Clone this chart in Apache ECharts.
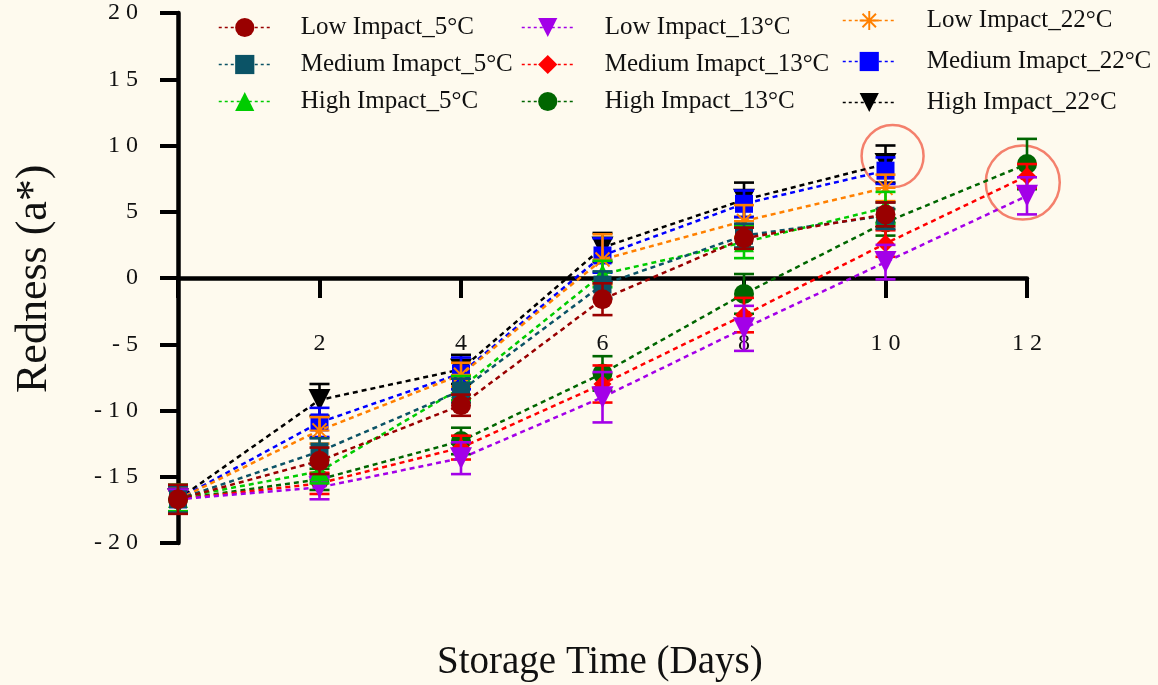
<!DOCTYPE html>
<html>
<head>
<meta charset="utf-8">
<script src="https://cdn.jsdelivr.net/npm/echarts@6/dist/echarts.min.js"></script>
<style>
html,body{margin:0;padding:0;background:#fefaee;}
#chart{width:1158px;height:685px;}
</style>
</head>
<body>
<div id="chart"></div>
<script>
// ---- data ----
const days = [0, 2, 4, 6, 8, 10, 12];
const yTicks = [-20, -15, -10, -5, 0, 5, 10, 15, 20];

const seriesNames = [
  'Low Impact_5°C', 'Medium Imapct_5°C', 'High Impact_5°C',
  'Low Impact_13°C', 'Medium Imapct_13°C', 'High Impact_13°C',
  'Low Impact_22°C', 'Medium Imapct_22°C', 'High Impact_22°C'
];

const low5   = [-16.7, -13.8, -9.6, -1.6, 3.0, 4.8];
const med5   = [-16.7, -13.1, -8.5, -0.5, 3.2, 4.7];
const high5  = [-16.6, -14.6, -8.3, 0.3, 2.7, 5.3];
const low13  = [-16.7, -15.8, -13.6, -9.0, -3.8, 1.2, 6.2];
const med13  = [-16.7, -15.5, -12.8, -8.0, -2.8, 2.6, 7.7];
const high13 = [-16.7, -15.2, -12.3, -7.2, -1.2, 4.2, 8.6];
const low22  = [-16.7, -11.5, -7.3, 1.4, 4.3, 6.8];
const med22  = [-16.7, -10.9, -7.2, 1.7, 5.6, 8.1];
const high22 = [-16.7, -9.2, -6.9, 2.3, 5.9, 8.6];

const low5Err   = [1.1, 1.0, 0.8, 1.2, 0.8, 0.9];
const med5Err   = [1.0, 1.0, 0.9, 1.0, 0.9, 1.0];
const high5Err  = [1.0, 0.9, 0.9, 1.0, 1.2, 1.2];
const low13Err  = [1.0, 0.9, 1.2, 1.9, 1.7, 1.3, 1.4];
const med13Err  = [1.0, 0.8, 0.9, 1.4, 1.3, 1.0, 0.9];
const high13Err = [1.0, 0.8, 1.0, 1.3, 1.5, 1.0, 1.9];
const low22Err  = [1.0, 1.0, 0.9, 1.9, 1.2, 1.0];
const med22Err  = [1.0, 1.1, 1.2, 1.3, 1.0, 1.0];
const high22Err = [1.0, 1.2, 1.1, 1.1, 1.3, 1.4];

// annotation circles (data coordinates)
const highlight1 = [10.1, 9.2];
const highlight2 = [11.94, 7.2];

// ---- styling ----
const FONT = 'Liberation Serif';
const invTri = 'path://M0,0L20,0L10,18Z';
const asterisk = 'path://M-1,-10L1,-10L1,10L-1,10Z M-10,-1L10,-1L10,1L-10,1Z M-7.7,-6.3L-6.3,-7.7L7.7,6.3L6.3,7.7Z M6.3,-7.7L7.7,-6.3L-6.3,7.7L-7.7,6.3Z';

const values = [low5, med5, high5, low13, med13, high13, low22, med22, high22];
const errs = [low5Err, med5Err, high5Err, low13Err, med13Err, high13Err, low22Err, med22Err, high22Err];
const colors = ['#990000', '#0b5366', '#00cc00', '#a300e8', '#ff0000', '#006600', '#ff8000', '#0000ff', '#000000'];
const symbols = ['circle', 'rect', 'triangle', invTri, 'diamond', 'circle', asterisk, 'rect', invTri];
const sizes = [20, 18, 20, 22, 18, 20, 20, 18, 22];
const zs = [30, 28, 26, 20, 18, 16, 14, 12, 10];

function spaced(v) { return String(v).split('').join(' '); }

const series = [];
values.forEach((vals, i) => {
  const data = vals.map((v, k) => [days[k], v]);
  const errData = vals.map((v, k) => [days[k], v - errs[i][k], v + errs[i][k]]);
  series.push({
    type: 'custom',
    name: seriesNames[i] + ' err',
    z: zs[i],
    silent: true,
    renderItem: function (params, api) {
      const x = api.value(0);
      const p1 = api.coord([x, api.value(1)]);
      const p2 = api.coord([x, api.value(2)]);
      const w = 10;
      const st = { stroke: colors[i], lineWidth: 2.6 };
      return {
        type: 'group',
        children: [
          { type: 'line', shape: { x1: p1[0], y1: p1[1], x2: p2[0], y2: p2[1] }, style: st },
          { type: 'line', shape: { x1: p1[0] - w, y1: p1[1], x2: p1[0] + w, y2: p1[1] }, style: st },
          { type: 'line', shape: { x1: p2[0] - w, y1: p2[1], x2: p2[0] + w, y2: p2[1] }, style: st }
        ]
      };
    },
    data: errData
  });
  const s = {
    type: 'line',
    name: seriesNames[i],
    z: zs[i] + 1,
    data: data,
    symbol: symbols[i],
    symbolSize: sizes[i],
    showSymbol: true,
    itemStyle: { color: colors[i] },
    lineStyle: { color: colors[i], width: 2.5, type: [5, 4] }
  };
  if (i === 8) {
    s.markPoint = {
      symbol: 'circle', symbolSize: 62, silent: true,
      itemStyle: { color: 'rgba(0,0,0,0)', borderColor: '#f4806c', borderWidth: 2.5 },
      label: { show: false },
      data: [{ coord: highlight1 }]
    };
  }
  if (i === 3) {
    s.markPoint = {
      symbol: 'circle', symbolSize: 74, silent: true,
      itemStyle: { color: 'rgba(0,0,0,0)', borderColor: '#f4806c', borderWidth: 2.5 },
      label: { show: false },
      data: [{ coord: highlight2 }]
    };
  }
  series.push(s);
});

function legendCol(left, top, gap, itemWidth, pad, names) {
  return {
    orient: 'vertical',
    left: left, top: top,
    itemWidth: itemWidth,
    itemHeight: 24,
    itemGap: gap,
    selectedMode: false,
    textStyle: { fontFamily: FONT, fontSize: 25, color: '#111', padding: [0, 0, 0, pad] },
    lineStyle: { width: 1.5, type: [3, 3] },
    data: names
  };
}

const chart = echarts.init(document.getElementById('chart'));
chart.setOption({
  backgroundColor: '#fefaee',
  animation: false,
  grid: { left: 178, right: 131, top: 13, bottom: 142 },
  legend: [
    legendCol(213, 10, 12, 52, 25, seriesNames.slice(0, 3)),
    legendCol(516, 10, 12, 52, 26, seriesNames.slice(3, 6)),
    legendCol(837, 3, 16, 53, 26, seriesNames.slice(6, 9))
  ],
  xAxis: {
    type: 'value', min: 0, max: 12, interval: 2,
    axisLine: { onZero: true, lineStyle: { color: '#000', width: 4.5 } },
    axisTick: { show: true, length: 20, lineStyle: { color: '#000', width: 4 } },
    axisLabel: { margin: -211, fontFamily: FONT, fontSize: 24, color: '#111',
      formatter: v => (v === 0 ? '' : spaced(v)) },
    splitLine: { show: false }
  },
  yAxis: {
    type: 'value', min: yTicks[0], max: yTicks[yTicks.length - 1], interval: 5,
    axisLine: { show: true, lineStyle: { color: '#000', width: 4.5 } },
    axisTick: { show: true, length: 18, lineStyle: { color: '#000', width: 4 } },
    axisLabel: { margin: 40, fontFamily: FONT, fontSize: 24, color: '#111',
      formatter: v => spaced(v) },
    splitLine: { show: false }
  },
  graphic: [
    { type: 'text', left: 437, top: 643,
      style: { text: 'Storage Time (Days)', fontFamily: FONT, fontSize: 39, fill: '#111' } },
    { type: 'text', rotation: Math.PI / 2, x: 12, y: 393,
      style: { text: 'Redness (a*)', fontFamily: FONT, fontSize: 44, fill: '#111',
        textAlign: 'left', textVerticalAlign: 'top' } }
  ],
  series: series
});
</script>
</body>
</html>
